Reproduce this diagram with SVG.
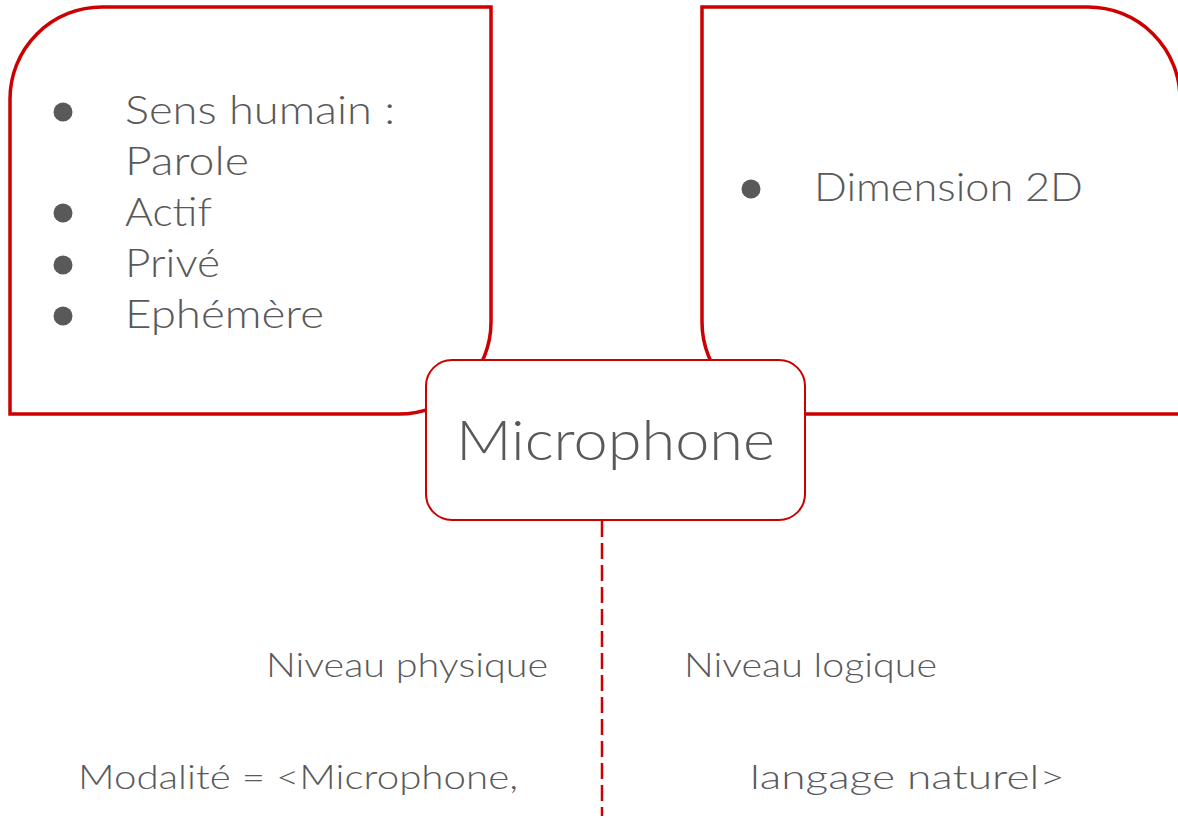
<svg xmlns="http://www.w3.org/2000/svg" width="1178" height="819" viewBox="0 0 1178 819">
<style>
.frame{fill:#ffffff;stroke:#cc0000;stroke-width:3.5}
.node{fill:#ffffff;stroke:#cc0000;stroke-width:2}
.t{font-family:Lato,"Noto Sans","Liberation Sans",sans-serif;font-weight:300;fill:#595959}
.b{font-size:40px}
.s{font-size:33px}
.dot{fill:#595959}
.conn{stroke:#cc0000;stroke-width:2.5;stroke-dasharray:16 6;fill:none}
</style>
<rect width="1178" height="819" fill="#ffffff"/>
<g id="left-box">
<path class="frame" d="M10,99 A92,92 0 0 1 102,7 H491 V322 A92,92 0 0 1 399,414 H10 Z"/>
<circle class="dot" cx="63" cy="112" r="9.5"/>
<circle class="dot" cx="63" cy="213" r="9.5"/>
<circle class="dot" cx="63" cy="265" r="9.5"/>
<circle class="dot" cx="63" cy="316" r="9.5"/>
<text class="t b" x="125" y="124" textLength="270" lengthAdjust="spacingAndGlyphs">Sens humain :</text>
<text class="t b" x="125" y="175" textLength="124" lengthAdjust="spacingAndGlyphs">Parole</text>
<text class="t b" x="125" y="226" textLength="87" lengthAdjust="spacingAndGlyphs">Actif</text>
<text class="t b" x="125" y="277" textLength="95" lengthAdjust="spacingAndGlyphs">Privé</text>
<text class="t b" x="125" y="328" textLength="199" lengthAdjust="spacingAndGlyphs">Ephémère</text>
</g>
<g id="right-box">
<path class="frame" d="M702,7 H1088 A92,92 0 0 1 1180,99 V414 H794 A92,92 0 0 1 702,322 Z"/>
<circle class="dot" cx="751" cy="189" r="9.5"/>
<text class="t b" x="814" y="201" textLength="269" lengthAdjust="spacingAndGlyphs">Dimension 2D</text>
</g>
<g id="connectors">
<line class="conn" x1="602" y1="521" x2="602" y2="816"/>
</g>
<g id="microphone">
<rect class="node" x="426" y="360" width="379" height="160" rx="26" ry="26"/>
<text class="t" x="456" y="460" font-size="56" textLength="319" lengthAdjust="spacingAndGlyphs">Microphone</text>
</g>
<g id="labels">
<text class="t s" x="266" y="677" textLength="282" lengthAdjust="spacingAndGlyphs">Niveau physique</text>
<text class="t s" x="684" y="677" textLength="253" lengthAdjust="spacingAndGlyphs">Niveau logique</text>
<text class="t s" x="78" y="789" textLength="440" lengthAdjust="spacingAndGlyphs">Modalité = &lt;Microphone,</text>
<text class="t s" x="750" y="789" textLength="315" lengthAdjust="spacingAndGlyphs">langage naturel&gt;</text>
</g>
</svg>
